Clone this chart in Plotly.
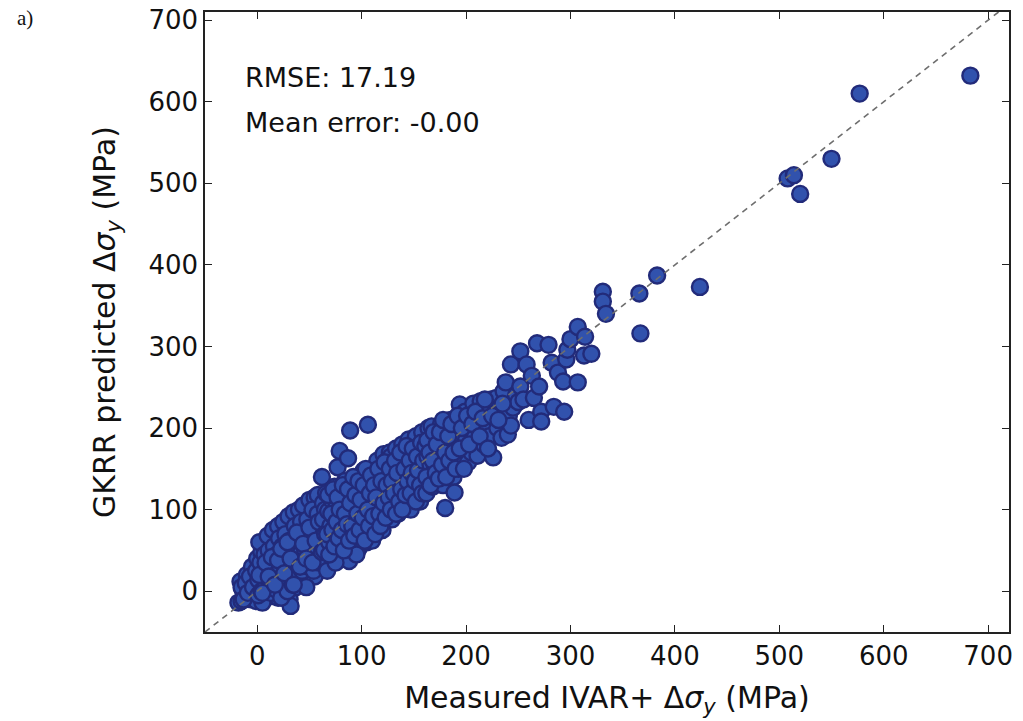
import plotly.graph_objects as go

# ---- data ----
measured_low = [-18, -16, -14, -12, -10, -8, -6, -5, -3, -2,
                0, 0, 2, 3, 4, 5, 6, 7, 8, 9,
                10, 11, 12, 13, 14, 15, 16, 17, 18, 19,
                20, 21, 22, 23, 24, 25, 26, 27, 28, 29,
                30, 31, 32, 33, 34, 35, 36, 37, 38, 39,
                40, 41, 42, 43, 44, 45, 46, 47, 48, 49,
                50, 51, 52, 53, 54, 55, 56, 57, 58, 59, 60, 61,
                -15, -1, 5, 20,
                2, 10, 15, 20, 25, 30, 35, 40, 44, 50, 55, 58]
predicted_low = [-14, 12, 2, -6, 20, 8, -10, 30, 15, -4,
                 40, 5, 22, -8, 48, 12, 32, -2, 58, 20,
                 40, 5, 55, 28, -6, 45, 12, 62, 35, 0,
                 52, 22, 68, 8, 40, -4, 58, 30, 75, 15,
                 48, -10, -18, 82, 35, 20, 62, 5, 48, 90,
                 28, 70, 12, 55, 38, 95, 78, 22, 60, 42,
                 105, 30, 85, 50, 68, 18, 95, 40, 75, 58, 110, 32,
                 -12, -12, -14, -8,
                 60, 68, 75, 80, 85, 92, 97, 100, 105, 112, 115, 118]

measured_fill_low = [-15, -13, -11, -9, -7, -4, -1, 1, 1, 3,
                     4, 6, 7, 8, 9, 11, 12, 13, 14, 16,
                     17, 18, 19, 21, 22, 23, 24, 26, 27, 28,
                     29, 31, 32, 33, 34, 36, 37, 38, 39, 41,
                     42, 43, 44, 46, 47, 48, 49, 51, 52, 53,
                     54, 56, 57, 58, 59, 61, 62, 63, 64, 66]
predicted_fill_low = [5, -10, 10, -2, 18, 5, 25, -5, 14, 35,
                      0, 18, 45, 5, 30, 50, 15, -2, 35, 55,
                      20, 2, 45, 65, 30, -8, 55, 15, 70, 40,
                      0, 62, 25, 48, 8, 80, 35, 18, 65, 45,
                      85, 25, 70, 50, 5, 88, 30, 65, 45, 100,
                      25, 75, 55, 95, 35, 80, 60, 108, 35, 90]

measured_core = [2, 5, 8, 11, 14, 17, 20, 23, 26, 29,
                 32, 35, 38, 41, 44, 47, 50, 53, 56, 59,
                 62, 65, 68, 71, 74, 77, 80, 83, 86, 89,
                 92, 95, 98, 101, 104, 107, 110, 113, 116, 119,
                 122, 125, 128, 131, 134, 137, 140, 143, 146, 149]
predicted_core = [20, -2, 35, 18, 42, 8, 38, 52, 22, 60,
                  40, 8, 72, 30, 58, 40, 78, 35, 62, 85,
                  48, 100, 75, 58, 100, 80, 110, 62, 95, 115,
                  85, 130, 108, 78, 112, 132, 98, 145, 118, 105,
                  140, 120, 150, 108, 165, 138, 120, 158, 140, 125]

measured_mid = [62, 63, 64, 65, 66, 67, 68, 69, 70, 71,
                72, 73, 74, 75, 76, 77, 78, 79, 80, 81,
                82, 83, 84, 85, 86, 87, 88, 89, 90, 91,
                92, 93, 94, 95, 96, 97, 98, 99, 100, 101,
                102, 103, 104, 106, 105, 107, 108, 109, 110, 111,
                112, 113, 114, 115, 116, 117, 118, 119, 120, 121,
                122, 123, 124, 125, 126, 127, 128, 129, 130, 131,
                132, 133, 134, 135, 136, 137, 138, 139, 140, 141,
                142, 143, 144, 145, 146, 147, 148, 149, 150, 151,
                152, 153, 154, 155, 156, 157, 158, 159, 160,
                75, 95, 110, 120]
predicted_mid = [140, 88, 50, 70, 120, 25, 98, 60, 80, 112,
                 45, 92, 128, 65, 105, 152, 38, 172, 85, 118,
                 55, 100, 135, 72, 110, 163, 37, 197, 90, 125,
                 62, 105, 140, 80, 118, 52, 95, 132, 72, 110,
                 148, 88, 125, 204, 60, 100, 138, 72, 115, 150,
                 85, 128, 98, 160, 78, 112, 140, 92, 125, 168,
                 85, 108, 150, 98, 132, 170, 165, 88, 118, 148,
                 105, 175, 130, 95, 158, 118, 140, 180, 105, 128,
                 165, 112, 148, 186, 122, 100, 170, 138, 155, 118,
                 190, 142, 128, 172, 110, 158, 195, 135, 148,
                 35, 45, 62, 75]

measured_fill_mid = [67, 68, 69, 71, 72, 73, 74, 76, 77, 78,
                     79, 81, 82, 83, 84, 86, 87, 88, 89, 91,
                     92, 93, 94, 96, 97, 98, 99, 101, 102, 103,
                     104, 106, 107, 108, 109, 111, 112, 113, 114, 116,
                     117, 118, 119, 121, 122, 123, 124, 126, 127, 128,
                     129, 131, 132, 133, 134, 136, 137, 138, 139, 141,
                     142, 143, 144, 146, 147, 148, 149, 151, 152, 153,
                     154, 156, 157, 158, 159]
predicted_fill_mid = [70, 118, 45, 95, 75, 125, 55, 85, 115, 65,
                      100, 75, 130, 50, 95, 82, 125, 62, 108, 80,
                      140, 68, 118, 95, 135, 75, 112, 90, 130, 62,
                      150, 100, 80, 120, 142, 92, 130, 70, 115, 150,
                      95, 80, 135, 108, 158, 90, 130, 115, 150, 100,
                      135, 120, 160, 95, 145, 110, 170, 125, 100, 150,
                      118, 178, 135, 160, 120, 145, 175, 135, 110, 165,
                      148, 130, 182, 120, 160]

measured_high = [161, 162, 163, 164, 165, 166, 167, 168, 169, 170,
                 171, 172, 173, 174, 175, 176, 177, 178, 179, 180,
                 181, 182, 183, 184, 185, 186, 187, 188, 189, 190,
                 191, 192, 193, 194, 195, 196, 197, 198, 199, 200,
                 202, 204, 205, 207, 208, 210, 211, 212, 214, 215,
                 217, 219, 220, 222, 224, 226, 228, 229, 230, 232,
                 234, 236, 238, 240, 241, 243, 243, 245, 248, 250,
                 252, 252, 255, 258, 260, 263, 265, 268, 270, 272,
                 272, 279, 282, 284, 288, 293, 294, 296, 297, 300,
                 307, 307, 313, 314, 320, 331, 331, 334]
predicted_high = [178, 120, 165, 200, 140, 155, 202, 128, 185, 150,
                  168, 135, 192, 160, 145, 205, 175, 130, 188, 102,
                  160, 195, 145, 172, 210, 155, 185, 140, 121, 165,
                  200, 178, 150, 229, 190, 160, 210, 172, 220, 185,
                  158, 200, 170, 230, 188, 178, 166, 215, 233, 195,
                  180, 225, 205, 190, 235, 164, 212, 237, 200, 225,
                  188, 245, 256, 192, 215, 203, 278, 225, 240, 232,
                  294, 251, 235, 278, 210, 264, 237, 304, 251, 220,
                  208, 302, 280, 226, 268, 257, 220, 284, 296, 309,
                  256, 324, 289, 312, 291, 367, 355, 340]

measured_fill_high = [162, 163, 165, 166, 168, 169, 171, 172, 174, 175,
                      177, 178, 180, 181, 183, 184, 186, 188, 190, 192,
                      194, 196, 198, 201, 203, 206, 209, 213, 216, 218,
                      221, 225, 231, 235]
predicted_fill_high = [140, 185, 170, 130, 160, 195, 145, 180, 138, 195,
                       155, 210, 170, 140, 190, 160, 205, 170, 150, 215,
                       175, 200, 150, 215, 180, 205, 220, 190, 212, 235,
                       175, 215, 210, 230]

measured_top = [366, 367, 383, 424, 508, 514, 520, 550, 577, 683]
predicted_top = [365, 316, 387, 373, 506, 510, 487, 530, 610, 632]

x_ticks = [0, 100, 200, 300, 400, 500, 600, 700]
y_ticks = [0, 100, 200, 300, 400, 500, 600, 700]
diag = [-50, 720]

rmse_text = "RMSE: 17.19"
mean_text = "Mean error: -0.00"

measured = (measured_low + measured_fill_low + measured_core + measured_mid
            + measured_fill_mid + measured_high + measured_fill_high + measured_top)
predicted = (predicted_low + predicted_fill_low + predicted_core + predicted_mid
             + predicted_fill_mid + predicted_high + predicted_fill_high + predicted_top)

FONT = "DejaVu Sans"

fig = go.Figure()
fig.add_trace(go.Scatter(
    x=measured, y=predicted, mode="markers",
    marker=dict(size=16, color="#3152ad",
                line=dict(color="#222b7a", width=2.4)),
    showlegend=False, hoverinfo="skip"))
fig.add_trace(go.Scatter(
    x=diag, y=diag, mode="lines",
    line=dict(color="#6e6e6e", width=1.6, dash="6px,5px"),
    showlegend=False, hoverinfo="skip"))

axis_common = dict(
    showline=True, linecolor="#222222", linewidth=1.5, mirror="allticks",
    ticks="inside", ticklen=7, tickwidth=1, tickcolor="#222222",
    showgrid=False, zeroline=False,
    tickfont=dict(family=FONT, size=26, color="#111111"),
)

fig.update_xaxes(range=[-50, 720], tickvals=x_ticks, **axis_common,
                 title=dict(text="Measured IVAR+ Δ<i>σ</i><sub><i>y</i></sub> (MPa)",
                            font=dict(family=FONT, size=30, color="#111111"),
                            standoff=17))
fig.update_yaxes(range=[-50, 710], tickvals=y_ticks, **axis_common,
                 title=dict(text="GKRR predicted Δ<i>σ</i><sub><i>y</i></sub> (MPa)",
                            font=dict(family=FONT, size=30, color="#111111"),
                            standoff=24))

fig.add_annotation(text=rmse_text, xref="paper", yref="paper",
                   x=0.047, y=0.894, xanchor="left", yanchor="middle",
                   showarrow=False, font=dict(family=FONT, size=27, color="#111111"))
fig.add_annotation(text=mean_text, xref="paper", yref="paper",
                   x=0.047, y=0.821, xanchor="left", yanchor="middle",
                   showarrow=False, font=dict(family=FONT, size=27, color="#111111"))
fig.add_annotation(text="a)", xref="paper", yref="paper",
                   x=-0.236, y=0.99, xanchor="left", yanchor="middle",
                   showarrow=False,
                   font=dict(family="Liberation Serif", size=21, color="#111111"))

fig.update_layout(
    width=1023, height=721,
    margin=dict(l=205, r=14, t=12, b=89, autoexpand=False),
    paper_bgcolor="white", plot_bgcolor="white",
)

fig.write_html("out.html")
